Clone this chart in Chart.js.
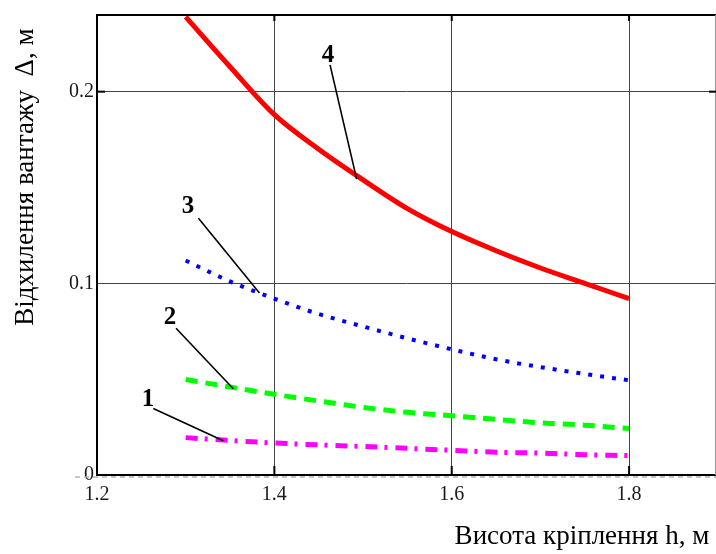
<!DOCTYPE html>
<html><head><meta charset="utf-8">
<script src="https://cdn.jsdelivr.net/npm/chart.js@4.4.1/dist/chart.umd.min.js"></script>
<style>html,body{margin:0;padding:0;background:#fff;}#wrap{width:716px;height:554px;position:relative;}</style>
</head><body><div id="wrap"><canvas id="c" width="716" height="554"></canvas></div>
<script>
// ---- data ----
const hValues = [1.30, 1.35, 1.40, 1.45, 1.50, 1.55, 1.60, 1.65, 1.70, 1.75, 1.80];
const curve1 = [0.0195, 0.0180, 0.0167, 0.0157, 0.0149, 0.0139, 0.0129, 0.0119, 0.0114, 0.0106, 0.0101];
const curve2 = [0.0498, 0.0459, 0.0421, 0.0386, 0.0353, 0.0327, 0.0309, 0.0290, 0.0272, 0.0260, 0.0242];
const curve3 = [0.1119, 0.1010, 0.0920, 0.0840, 0.0775, 0.0713, 0.0656, 0.0604, 0.0563, 0.0527, 0.0494];
const curve4 = [0.239, 0.213, 0.188, 0.170, 0.154, 0.139, 0.127, 0.117, 0.108, 0.100, 0.092];
const seriesNames = ['1', '2', '3', '4'];
const xTickValues = [1.2, 1.4, 1.6, 1.8];
const xTickLabels = ['1.2', '1.4', '1.6', '1.8'];
const yTickValues = [0, 0.1, 0.2];
const yTickLabels = ['0', '0.1', '0.2'];
const xTitle = 'Висота кріплення h, м';
const yTitle = 'Відхилення вантажу  Δ, м';

// leader-label annotations (in data units)
const callouts = [
  {text: seriesNames[0], at: [1.2575, 0.0395], from: [1.2635, 0.0347], to: [1.3424, 0.0179]},
  {text: seriesNames[1], at: [1.2823, 0.0819], from: [1.2891, 0.0766], to: [1.3537, 0.0450]},
  {text: seriesNames[2], at: [1.3027, 0.1399], from: [1.3144, 0.1339], to: [1.3832, 0.0950]},
  {text: seriesNames[3], at: [1.4606, 0.2186], from: [1.4628, 0.2140], to: [1.4928, 0.1544]}
];

const pts = arr => hValues.map((h, i) => ({x: h, y: arr[i]}));
const serif = 'Liberation Serif, Times New Roman, serif';

const decor = {
  id: 'decor',
  afterDatasetsDraw(chart) {
    const {ctx, chartArea: a, scales: {x, y}} = chart;
    ctx.save();
    // zero marker line (dashed grey)
    const y0 = y.getPixelForValue(0) + 2;
    ctx.strokeStyle = '#b4b4b4'; ctx.lineWidth = 1.5; ctx.setLineDash([5, 4]);
    ctx.beginPath(); ctx.moveTo(a.left - 22, y0); ctx.lineTo(a.right, y0); ctx.stroke();
    ctx.setLineDash([]);
    // frame
    ctx.strokeStyle = '#000'; ctx.lineWidth = 2;
    ctx.beginPath();
    ctx.moveTo(a.right, a.top); ctx.lineTo(a.left, a.top); ctx.lineTo(a.left, a.bottom); ctx.lineTo(a.right, a.bottom);
    ctx.stroke();
    ctx.strokeStyle = '#9a9a9a'; ctx.lineWidth = 1;
    ctx.beginPath(); ctx.moveTo(a.right - 0.5, a.top); ctx.lineTo(a.right - 0.5, a.bottom); ctx.stroke();
    // small tick marks on the frame
    ctx.strokeStyle = '#000'; ctx.lineWidth = 2;
    xTickValues.slice(1).forEach(v => {
      const px = x.getPixelForValue(v);
      ctx.beginPath(); ctx.moveTo(px, a.top); ctx.lineTo(px, a.top + 6); ctx.stroke();
      ctx.beginPath(); ctx.moveTo(px, a.bottom); ctx.lineTo(px, a.bottom - 9); ctx.stroke();
    });
    yTickValues.slice(2).forEach(v => {
      const py = y.getPixelForValue(v);
      ctx.beginPath(); ctx.moveTo(a.left, py); ctx.lineTo(a.left + 8, py); ctx.stroke();
      ctx.beginPath(); ctx.moveTo(a.right, py); ctx.lineTo(a.right - 7, py); ctx.stroke();
    });
    // callouts
    ctx.strokeStyle = '#000'; ctx.lineWidth = 1.6;
    ctx.fillStyle = '#000';
    ctx.font = 'bold 25px ' + serif;
    ctx.textAlign = 'center'; ctx.textBaseline = 'middle';
    callouts.forEach(c => {
      ctx.beginPath();
      ctx.moveTo(x.getPixelForValue(c.from[0]), y.getPixelForValue(c.from[1]));
      ctx.lineTo(x.getPixelForValue(c.to[0]), y.getPixelForValue(c.to[1]));
      ctx.stroke();
      ctx.fillText(c.text, x.getPixelForValue(c.at[0]), y.getPixelForValue(c.at[1]));
    });
    ctx.restore();
  }
};

new Chart(document.getElementById('c'), {
  type: 'line',
  data: {
    datasets: [
      {label: seriesNames[3], data: pts(curve4), borderColor: '#ff0000', borderWidth: 5, cubicInterpolationMode: 'monotone'},
      {label: seriesNames[2], data: pts(curve3), borderColor: '#0000ff', borderWidth: 4, borderDash: [4, 8], cubicInterpolationMode: 'monotone'},
      {label: seriesNames[1], data: pts(curve2), borderColor: '#00ff00', borderWidth: 5, borderDash: [12, 8], cubicInterpolationMode: 'monotone'},
      {label: seriesNames[0], data: pts(curve1), borderColor: '#ff00ff', borderWidth: 5, borderDash: [12, 7, 3, 8], cubicInterpolationMode: 'monotone'}
    ].map(d => Object.assign(d, {pointRadius: 0, fill: false, clip: 0}))
  },
  options: {
    responsive: false,
    animation: false,
    devicePixelRatio: 1,
    layout: {padding: {top: 11, right: 0, left: 0, bottom: 0}},
    plugins: {legend: {display: false}, tooltip: {enabled: false}},
    scales: {
      x: {
        type: 'linear', min: 1.2, max: 1.898,
        afterBuildTicks: s => { s.ticks = xTickValues.map(v => ({value: v})); },
        afterFit: s => { s.height = 79; },
        ticks: {
          callback: (v, i) => xTickLabels[i],
          font: {family: serif, size: 20}, color: '#1a1a1a', padding: 8, maxRotation: 0
        },
        grid: {color: '#444444', lineWidth: 1, drawTicks: false},
        border: {display: false},
        title: {display: true, text: xTitle + '\u00a0', align: 'end', font: {family: serif, size: 27}, color: '#000', padding: {top: 0, bottom: 1}}
      },
      y: {
        type: 'linear', min: 0, max: 0.24,
        afterBuildTicks: s => { s.ticks = yTickValues.map(v => ({value: v})); },
        afterFit: s => { s.width = 97; },
        ticks: {
          callback: (v, i) => yTickLabels[i],
          font: {family: serif, size: 20}, color: '#1a1a1a', padding: 3
        },
        grid: {color: '#444444', lineWidth: 1, drawTicks: false},
        border: {display: false},
        title: {display: true, text: yTitle + '\u00a0\u00a0', align: 'end', font: {family: serif, size: 27}, color: '#000', padding: {top: 10, bottom: 0}}
      }
    }
  },
  plugins: [decor]
});
</script></body></html>
